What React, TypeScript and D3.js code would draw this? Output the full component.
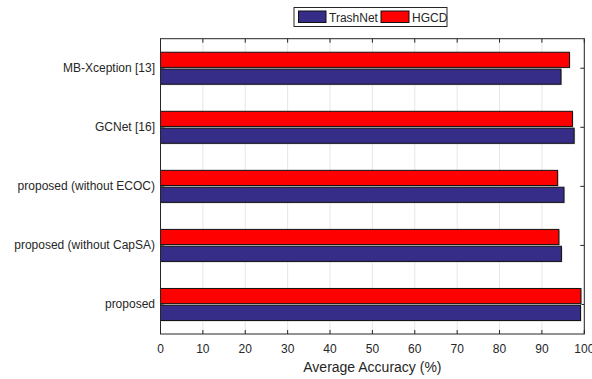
import React from "react";
import * as d3 from "d3";

const categories = [
  "MB-Xception [13]",
  "GCNet [16]",
  "proposed (without ECOC)",
  "proposed (without CapSA)",
  "proposed",
];
const seriesNames = ["HGCD", "TrashNet"];
const hgcd = [96.5, 97.2, 93.7, 94.0, 99.2];
const trashnet = [94.5, 97.6, 95.2, 94.6, 99.1];
const xTicks = [0, 10, 20, 30, 40, 50, 60, 70, 80, 90, 100];
const colors: Record<string, string> = { TrashNet: "#362d88", HGCD: "#ff0000" };

const W = 592;
const H = 379;
const left = 160.5;
const right = 584.3;
const top = 38.7;
const bottom = 334;

export default function App() {
  const x = d3.scaleLinear().domain([0, 100]).range([left, right]);
  const y = d3.scaleBand<string>().domain(categories).range([top, bottom]);
  const inner = d3
    .scaleBand<string>()
    .domain(seriesNames)
    .range([-16, 16])
    .paddingInner(0.1);
  const values: Record<string, number[]> = { HGCD: hgcd, TrashNet: trashnet };
  const font = "Arial, 'Liberation Sans', sans-serif";
  const textColor = "#262626";

  return (
    <svg
      width={W}
      height={H}
      style={{ position: "absolute", left: 0, top: 0, background: "#fff" }}
      fontFamily={font}
    >
      {/* vertical grid */}
      {xTicks.map((t) => (
        <line
          key={"g" + t}
          x1={x(t)}
          x2={x(t)}
          y1={top}
          y2={bottom}
          stroke="#e6e6e6"
          strokeWidth={1}
        />
      ))}
      {/* left ticks (inside) */}
      {categories.map((c) => {
        const cy = (y(c) ?? 0) + y.bandwidth() / 2;
        return (
          <g key={"yt" + c}>
            <line x1={left} x2={left + 4} y1={cy} y2={cy} stroke="#262626" />
            <line x1={right} x2={right - 4} y1={cy} y2={cy} stroke="#262626" />
          </g>
        );
      })}
      {/* bars */}
      {categories.map((c, i) => {
        const cy = (y(c) ?? 0) + y.bandwidth() / 2;
        return seriesNames.map((s) => {
          const v = values[s][i];
          const by = cy + (inner(s) ?? 0);
          const bh = inner.bandwidth();
          return (
            <g key={c + s}>
              <rect
                x={x(0) + 1}
                y={by + 1}
                width={x(v) - x(0)}
                height={bh}
                fill="#c8c8c8"
              />
              <rect
                x={x(0)}
                y={by}
                width={x(v) - x(0)}
                height={bh}
                fill={colors[s]}
                stroke="#111"
                strokeWidth={1}
              />
            </g>
          );
        });
      })}
      {/* x ticks top & bottom */}
      {xTicks.map((t) => (
        <g key={"xt" + t}>
          <line x1={x(t)} x2={x(t)} y1={bottom} y2={bottom - 4} stroke="#262626" />
          <line x1={x(t)} x2={x(t)} y1={top} y2={top + 4} stroke="#262626" />
          <text
            x={x(t)}
            y={353}
            textAnchor="middle"
            fontSize={12}
            fill={textColor}
          >
            {t}
          </text>
        </g>
      ))}
      {/* axes box */}
      <rect
        x={left}
        y={top}
        width={right - left}
        height={bottom - top}
        fill="none"
        stroke="#262626"
        strokeWidth={1}
      />
      {/* category labels */}
      {categories.map((c) => {
        const cy = (y(c) ?? 0) + y.bandwidth() / 2;
        return (
          <text
            key={"lbl" + c}
            x={155}
            y={cy + 4}
            textAnchor="end"
            fontSize={12}
            fill={textColor}
          >
            {c}
          </text>
        );
      })}
      <text
        x={(left + right) / 2}
        y={372}
        textAnchor="middle"
        fontSize={14}
        fill={textColor}
      >
        Average Accuracy (%)
      </text>
      {/* legend */}
      <g>
        <rect x={294} y={7.5} width={153} height={19} fill="#fff" stroke="#262626" />
        <rect x={298.5} y={11} width={27.5} height={11.5} fill={colors.TrashNet} stroke="#111" />
        <text x={329} y={21.5} fontSize={12} fill={textColor}>
          TrashNet
        </text>
        <rect x={381} y={11} width={28} height={11.5} fill={colors.HGCD} stroke="#111" />
        <text x={412} y={21.5} fontSize={12} fill={textColor}>
          HGCD
        </text>
      </g>
    </svg>
  );
}
